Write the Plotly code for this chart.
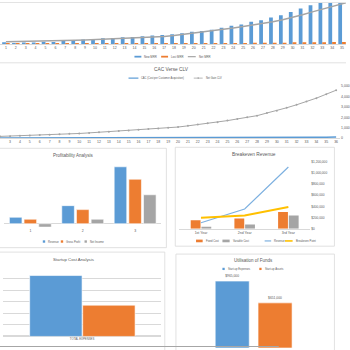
import plotly.graph_objects as go

W, H = 350, 350
def X(p): return p / W
def Y(p): return 1 - p / H

TXT = "#595959"
BLUE = "#5b9bd5"; ORANGE = "#ed7d31"; GREY = "#a5a5a5"; YELLOW = "#ffc000"; LBLUE = "#7eb1e0"
BORDER = "#d9d9d9"
FONT = "Liberation Sans"

# ---------------- data ----------------
months = list(range(1, 37))
new_mrr = [2000, 1300, 1800, 1800, 2600, 2300, 3300, 4000, 4700, 5300, 6000, 6200,
           7000, 7300, 8000, 8700, 9300, 10000, 11000, 12700, 13300, 14700, 16700, 18700,
           20000, 22700, 24300, 27000, 29300, 32700, 36000, 39300, 43000, 47000, 51000, 55000]
lost_mrr = [800, 700, 800, 800, 900, 900, 900, 900, 1000, 1000, 1000, 1000,
            1100, 1100, 1100, 1100, 1100, 1200, 1200, 1200, 1200, 1300, 1300, 1300,
            1300, 1400, 1400, 1400, 1500, 2000, 2000, 2100, 2100, 2200, 2200, 2300]
net_mrr = [2600, 2700, 2900, 3000, 3200, 3400, 3700, 4000, 4300, 4700, 5000, 5400,
           5800, 6300, 6800, 7300, 7900, 8800, 10000, 11200, 12300, 13400, 14900, 16400,
           17900, 19400, 21000, 22700, 24800, 27000, 29800, 32700, 35200, 37700, 40500, 43500]

cac = [15, 15, 16, 16, 17, 17, 18, 18, 19, 19, 20, 20, 21, 21, 22, 22, 23, 24,
       25, 26, 27, 28, 29, 30, 32, 34, 36, 38, 40, 44, 48, 55, 65, 80, 95, 110]
clv = [133, 162, 190, 229, 257, 295, 333, 371, 410, 448, 505, 562, 619, 676, 733, 800,
       867, 933, 990, 1067, 1181, 1305, 1429, 1524, 1686, 1848, 2000, 2162, 2419, 2638,
       2924, 3210, 3524, 3848, 4229, 4610]
clv_ticks = [0, 1000, 2000, 3000, 4000, 5000]

years_num = [1, 2, 3]
revenue = [115000, 320000, 1008000]
gross_profit = [80000, 250000, 788000]
net_income = [-60000, 80000, 513000]

be_years = ["1st Year", "2nd Year", "3rd Year"]
fixed_cost = [152000, 182000, 300000]
variable_cost = [28000, 76000, 235000]
be_revenue = [106000, 354000, 1108000]
breakeven_point = [195000, 235000, 389000]
be_ticks = [0, 200000, 400000, 600000, 800000, 1000000, 1200000]

startup_cat = ["TOTAL EXPENSES"]
startup_expense_total = [1056000]
startup_asset_total = [542000]

funds_cat = ["Funds"]
startup_expenses = [965000]
startup_assets = [651000]

# ---------------- figure ----------------
fig = go.Figure()
white_edge = dict(color="white", width=0.6)

# MRR chart
fig.add_bar(x=months, y=new_mrr, marker=dict(color=BLUE, line=dict(width=0)), width=0.38, offset=-0.38,
            xaxis="x", yaxis="y", showlegend=False)
fig.add_bar(x=months, y=lost_mrr, marker=dict(color=ORANGE, line=dict(width=0)), width=0.38, offset=0.0,
            xaxis="x", yaxis="y", showlegend=False)
fig.add_scatter(x=months, y=net_mrr, mode="lines", line=dict(color=GREY, width=1.5),
                xaxis="x", yaxis="y", showlegend=False)

# CAC vs CLV
fig.add_scatter(x=months, y=cac, mode="lines", line=dict(color=BLUE, width=1.5),
                xaxis="x2", yaxis="y2", showlegend=False)
fig.add_scatter(x=months, y=clv, mode="lines+markers", line=dict(color=GREY, width=1),
                marker=dict(size=2, color=GREY), xaxis="x2", yaxis="y2", showlegend=False)

# Profitability
for vals, col, off in [(revenue, BLUE, -0.40), (gross_profit, ORANGE, -0.12), (net_income, GREY, 0.16)]:
    fig.add_bar(x=years_num, y=vals, marker=dict(color=col, line=white_edge), width=0.24, offset=off,
                xaxis="x3", yaxis="y3", showlegend=False)

# Breakeven
fig.add_bar(x=be_years, y=fixed_cost, marker=dict(color=ORANGE, line=dict(width=0)), width=0.225, offset=-0.235,
            xaxis="x4", yaxis="y4", showlegend=False)
fig.add_bar(x=be_years, y=variable_cost, marker=dict(color=GREY, line=dict(width=0)), width=0.225, offset=0.01,
            xaxis="x4", yaxis="y4", showlegend=False)
fig.add_scatter(x=be_years, y=be_revenue, mode="lines", line=dict(color=LBLUE, width=1.2),
                xaxis="x4", yaxis="y4", showlegend=False)
fig.add_scatter(x=be_years, y=breakeven_point, mode="lines", line=dict(color=YELLOW, width=2),
                xaxis="x4", yaxis="y4", showlegend=False)

# Startup cost
fig.add_bar(x=startup_cat, y=startup_expense_total, marker=dict(color=BLUE, line=white_edge), width=0.33, offset=-0.33,
            xaxis="x5", yaxis="y5", showlegend=False)
fig.add_bar(x=startup_cat, y=startup_asset_total, marker=dict(color=ORANGE, line=white_edge), width=0.33, offset=0.004,
            xaxis="x5", yaxis="y5", showlegend=False)

# Utilisation of funds
for vals, col, off in [(startup_expenses, BLUE, -0.257), (startup_assets, ORANGE, 0.03)]:
    fig.add_bar(x=funds_cat, y=vals, marker=dict(color=col, line=white_edge), width=0.228, offset=off,
                text=[f"${v:,.0f}" for v in vals], textposition="outside", cliponaxis=False,
                textfont=dict(size=3.3, color=TXT, family=FONT),
                xaxis="x6", yaxis="y6", showlegend=False)

tf = dict(size=3.5, color=TXT, family=FONT)
hidden = dict(showticklabels=False, showgrid=False, zeroline=False, showline=False, ticks="")

fig.update_layout(
    width=W, height=H, margin=dict(l=0, r=0, t=0, b=0),
    paper_bgcolor="white", plot_bgcolor="white", barmode="overlay",
    font=dict(family=FONT, color=TXT),
    xaxis=dict(domain=[0, 1], range=[0.4, 35.4], tickvals=months, tickfont=tf, showgrid=False,
               zeroline=False, showline=True, linecolor=BORDER, linewidth=1, ticks="", anchor="y"),
    yaxis=dict(domain=[Y(42.7), 1], range=[0, 42700], anchor="x", **hidden),
    xaxis2=dict(domain=[0, X(344)], range=[1.98, 36.4], tickvals=months, tickfont=tf, showgrid=False,
                zeroline=False, showline=True, linecolor=BORDER, linewidth=1, ticks="", anchor="y2"),
    yaxis2=dict(domain=[Y(137.7), Y(82)], range=[0, 5300], side="right", tickvals=clv_ticks,
                ticktext=[f"{v:,}" for v in clv_ticks], tickfont=tf, showgrid=False, zeroline=False,
                showline=False, ticks="", anchor="x2"),
    xaxis3=dict(domain=[X(4.2), X(163.2)], range=[0.5, 3.5], tickvals=years_num, tickfont=tf,
                showgrid=False, zeroline=False, showline=False, ticks="", anchor="y3"),
    yaxis3=dict(domain=[Y(228), Y(160)], range=[-64750, 1125000], showticklabels=False, showgrid=False,
                zeroline=True, zerolinecolor=BORDER, zerolinewidth=1, anchor="x3"),
    xaxis4=dict(domain=[X(181.2), X(313.8)], type="category", range=[-0.5, 2.5], tickfont=tf,
                showgrid=False, zeroline=False, showline=True, linecolor=BORDER, linewidth=1, ticks="", anchor="y4"),
    yaxis4=dict(domain=[Y(229.3), Y(161.7)], range=[0, 1200000], side="right", tickvals=be_ticks,
                tickformat="$,.0f", tickfont=dict(size=3.2, color=TXT, family=FONT), showgrid=False,
                zeroline=False, showline=False, ticks="", anchor="x4"),
    xaxis5=dict(domain=[X(2.7), X(163.3)], type="category", range=[-0.5, 0.5],
                tickfont=dict(size=2.8, color=TXT, family=FONT), showgrid=False, zeroline=False,
                showline=False, ticks="", anchor="y5"),
    yaxis5=dict(domain=[Y(338.3), Y(268.3)], range=[0, 1200000], dtick=200000, showticklabels=False,
                showgrid=True, gridcolor=BORDER, gridwidth=0.8, zeroline=True, zerolinecolor=BORDER,
                anchor="x5"),
    xaxis6=dict(domain=[X(181), X(332)], type="category", range=[-0.5, 0.5], anchor="y6", **hidden),
    yaxis6=dict(domain=[0, Y(272)], range=[0, 1112000], anchor="x6", **hidden),
)

shapes = []
annotations = []

def box(x0, y0, x1, y1, color=BORDER, width=0.8):
    shapes.append(dict(type="rect", xref="paper", yref="paper", x0=X(x0), x1=X(x1), y0=Y(y0), y1=Y(y1),
                       line=dict(color=color, width=width), fillcolor="rgba(0,0,0,0)", layer="below"))

def hline(x0, x1, y, color=BORDER, width=0.8):
    shapes.append(dict(type="line", xref="paper", yref="paper", x0=X(x0), x1=X(x1), y0=Y(y), y1=Y(y),
                       line=dict(color=color, width=width)))

def text(t, x, y, size, anchor="center", color=TXT):
    annotations.append(dict(text=t, x=X(x), y=Y(y), xref="paper", yref="paper", showarrow=False,
                            xanchor=anchor, yanchor="middle", font=dict(size=size, color=color, family=FONT)))

def leg_rect(x, y, w, h, color, label, size):
    shapes.append(dict(type="rect", xref="paper", yref="paper", x0=X(x), x1=X(x + w), y0=Y(y + h / 2),
                       y1=Y(y - h / 2), fillcolor=color, line=dict(width=0)))
    text(label, x + w + 1, y, size, anchor="left")

def leg_line(x, y, w, color, label, size, lw=1.2, marker=False):
    shapes.append(dict(type="line", xref="paper", yref="paper", x0=X(x), x1=X(x + w), y0=Y(y), y1=Y(y),
                       line=dict(color=color, width=lw)))
    if marker:
        shapes.append(dict(type="circle", xref="paper", yref="paper", x0=X(x + w / 2 - 0.8), x1=X(x + w / 2 + 0.8),
                           y0=Y(y + 0.8), y1=Y(y - 0.8), fillcolor=color, line=dict(width=0)))
    text(label, x + w + 1, y, size, anchor="left")

# frames
hline(0, 350, 0.5, color="#e3e3e3", width=1.2)
hline(0, 350, 61.5)
box(-2, 148, 168.3, 248.5)
box(177.3, 147, 338.3, 247)
box(-2, 253, 166.7, 360)
box(178, 255, 338.3, 360)
hline(0, 282, 348.5, color="#a6a6a6", width=1.2)

# titles
text("CAC Verse CLV", 173.5, 68, 4.8)
text("Profitability Analysis", 74, 155, 4.5)
text("Breakeven Revenue", 257.3, 154, 4.8)
text("Startup Cost Analysis", 74, 260, 4.3)
text("Utilisation of Funds", 256.7, 261.7, 4.5)

# legends
leg_rect(136, 55.3, 7, 1.8, BLUE, "New MRR", 2.8)
leg_rect(163, 55.3, 7, 1.8, ORANGE, "Lost MRR", 2.8)
leg_line(190, 55.3, 8, GREY, "Net MRR", 2.8)

leg_line(130, 77, 10, BLUE, "CAC (Cost per Customer Acquisition)", 2.6)
leg_line(196, 77, 9, GREY, "Net Gain CLV", 2.6, lw=0.8, marker=True)

leg_rect(43.3, 242.3, 2.4, 2.4, BLUE, "Revenue", 2.7)
leg_rect(61.5, 242.3, 2.4, 2.4, ORANGE, "Gross Profit", 2.7)
leg_rect(85.5, 242.3, 2.4, 2.4, GREY, "Net Income", 2.7)

leg_rect(198.3, 241.7, 6.7, 2.7, ORANGE, "Fixed Cost", 2.7)
leg_rect(225, 241.7, 7.3, 2.7, GREY, "Variable Cost", 2.7)
leg_line(267.7, 241.7, 6.6, LBLUE, "Revenue", 2.7)
leg_line(288.3, 241.7, 7.7, YELLOW, "Breakeven Point", 2.7, lw=1.6)

leg_rect(225, 270, 2.3, 2.3, BLUE, "Start-up Expenses", 2.7)
leg_rect(262.3, 270, 2.3, 2.3, ORANGE, "Start-up Assets", 2.7)

fig.update_layout(shapes=shapes, annotations=annotations)
fig.write_html("out.html")
